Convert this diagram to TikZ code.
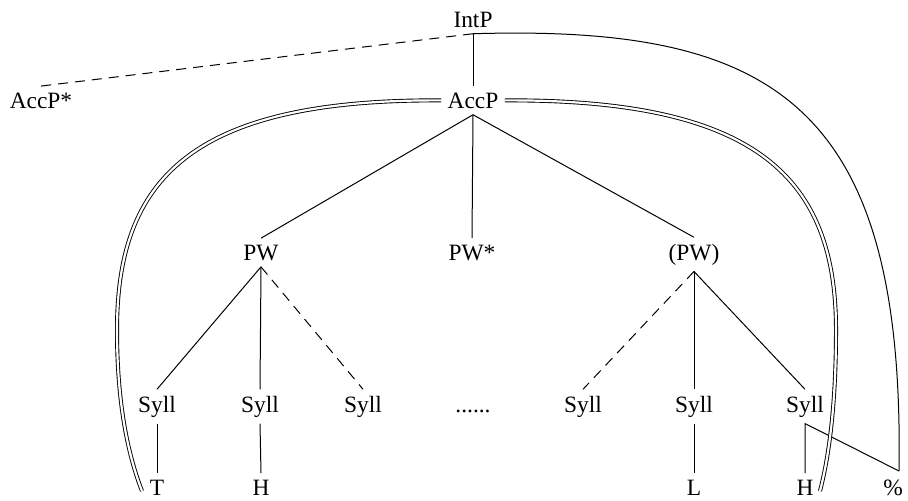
\documentclass[tikz,border=0pt]{standalone}
\usepackage{fontspec}
\setmainfont{Liberation Serif}
\usetikzlibrary{calc}
\tikzstyle{lab}=[anchor=base, inner sep=3pt, font=\fontsize{11.7}{14}\selectfont]
\tikzstyle{opt}=[dash pattern=on 5pt off 3.5pt]
\tikzstyle{tier}=[double, double distance=1.1pt, line width=0.45pt]
\newcommand{\drawsylls}[0]
{
  \foreach \n/\x in {1/157, 2/260, 3/363, 5/583, 6/694, 7/805}
    \node[lab](syll\n) at (\x,412){Syll};
  \node[lab](dots) at (473,412){......};
}

\begin{document}
\begin{tikzpicture}[x=0.5pt, y=-0.5pt, line width=0.5pt]
	\useasboundingbox (0,0) rectangle (908,500);

	\node[lab](intp) at (473,27){IntP};
	\node[lab](accp) at (473,108){AccP};
	\node[lab](accpx) at (41,108){AccP*};
	\node[lab](pw1) at (261,260){PW};
	\node[lab](pw2) at (472,260){PW*};
	\node[lab](pw3) at (694,260){(PW)};

	\drawsylls{}

	\node[lab](tT) at (157,495){T};
	\node[lab](tH) at (261,495){H};
	\node[lab](tL) at (694,495){L};
	\node[lab](tH2) at (805,495){H};
	\node[lab](pct) at (893,495){\%};

	\coordinate (hook) at (899,471);
	\coordinate (lfoot) at (142,491);
	\coordinate (rfoot) at (820,491);

	% upper levels
	\draw (intp.south) -- (accp.north);
	\draw[opt] (intp.south) -- (accpx.north);
	\foreach \p in {1,2,3}
		\draw (accp.south) -- (pw\p.north);

	% syllables
	\draw (pw1.south) -- (syll1.north);
	\draw (pw1.south) -- (syll2.north);
	\draw[opt] (pw1.south) -- (syll3.north);
	\draw[opt] (pw3.south) -- (syll5.north);
	\draw (pw3.south) -- (syll6.north);
	\draw (pw3.south) -- (syll7.north);

	% tones
	\draw (syll1.south) -- (tT.north);
	\draw (syll2.south) -- (tH.north);
	\draw (syll6.south) -- (tL.north);
	\draw (tH2.north) -- (syll7.south) -- (hook);
	\draw (intp.south) .. controls (770,25) and (905,100) .. (hook);

	% accentual domain
	\draw[tier] (accp.west) .. controls (190,99) and (117,180) .. (117,330)
		.. controls (117,410) and (130,460) .. (lfoot);
	\draw[tier] (accp.east) .. controls (760,99) and (836,180) .. (836,330)
		.. controls (836,410) and (828,460) .. (rfoot);

\end{tikzpicture}
\end{document}
